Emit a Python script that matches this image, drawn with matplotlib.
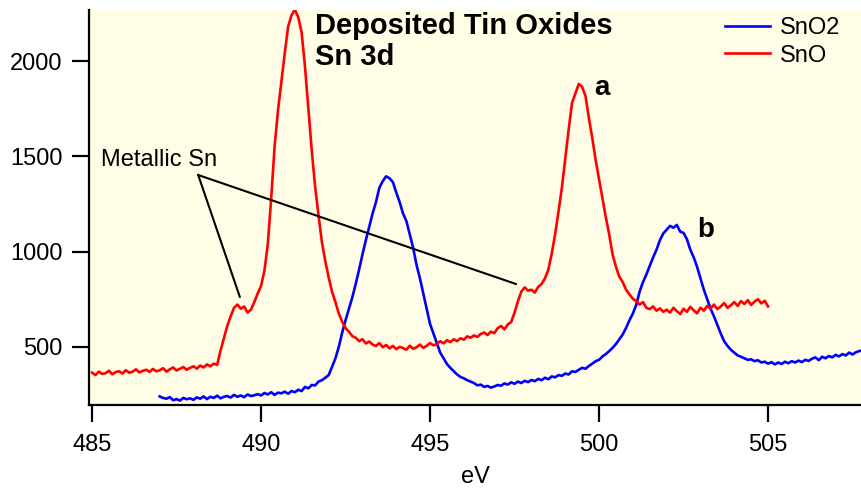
import numpy as np
import matplotlib
matplotlib.use("Agg")
import matplotlib.pyplot as plt

plt.rcParams['font.family'] = ['Liberation Sans', 'DejaVu Sans']

# SnO spectrum: 485.0 .. 505.0 eV, step 0.1 eV
sno_start, sno_step = 485.0, 0.1
sno_counts = [
    365, 352, 370, 358, 362, 375, 356, 368, 372, 360,
    378, 364, 370, 382, 366, 374, 380, 369, 384, 372,
    377, 388, 370, 382, 392, 376, 385, 394, 380, 390,
    398, 386, 402, 392, 408, 398, 412, 405, 480, 545,
    610, 660, 705, 722, 700, 712, 680, 695, 735, 780,
    820, 900, 1040, 1280, 1550, 1740, 1890, 2040, 2180, 2240,
    2270, 2230, 2150, 1970, 1750, 1530, 1340, 1190, 1050, 950,
    865, 790, 735, 675, 632, 598, 580, 556, 548, 530,
    540, 518, 528, 512, 505, 520, 498, 510, 492, 505,
    488, 500, 494, 485, 506, 490, 498, 512, 495, 505,
    520, 508, 515, 530, 518, 535, 525, 540, 530, 545,
    538, 555, 548, 560, 552, 568, 575, 562, 580, 572,
    598, 610, 592, 618, 630, 680, 740, 790, 812, 795,
    800, 785, 815, 830, 860, 905, 990, 1090, 1210, 1335,
    1490, 1640, 1780, 1830, 1880, 1865, 1815, 1700, 1595, 1480,
    1380, 1280, 1180, 1090, 985, 920, 868, 840, 800, 775,
    752, 740, 722, 735, 705, 698, 712, 690, 702, 684,
    695, 680, 705, 688, 672, 700, 684, 710, 692, 676,
    705, 690, 715, 700, 722, 698, 712, 730, 705, 718,
    735, 715, 740, 725, 745, 720, 738, 750, 728, 742,
    712,
]

# SnO2 spectrum: 487.0 .. 507.8 eV, step 0.1 eV
sno2_start, sno2_step = 487.0, 0.1
sno2_counts = [
    240, 232, 228, 236, 220, 226, 218, 232, 225, 230,
    222, 235, 228, 240, 226, 238, 232, 244, 230, 238,
    242, 234, 248, 238, 245, 236, 250, 242, 246, 252,
    245, 258, 250, 262, 248, 260, 256, 265, 254, 268,
    262, 275, 268, 290, 282, 300, 298, 318, 325, 338,
    352, 395, 440, 500, 575, 640, 700, 760, 830, 905,
    985, 1060, 1130, 1200, 1260, 1335, 1370, 1395, 1385, 1365,
    1310, 1260, 1200, 1160, 1090, 1020, 930, 860, 780, 700,
    620, 570, 520, 470, 440, 410, 390, 372, 355, 342,
    335, 325, 318, 310, 298, 302, 290, 295, 286, 292,
    300, 296, 308, 302, 314, 306, 318, 310, 322, 315,
    326, 320, 332, 325, 338, 330, 345, 340, 352, 348,
    360, 355, 372, 368, 380, 390, 385, 400, 412, 425,
    432, 450, 462, 478, 495, 515, 540, 565, 600, 640,
    675, 720, 790, 840, 880, 925, 970, 1010, 1060, 1095,
    1115, 1135, 1125, 1140, 1105, 1098, 1065, 1010, 970, 920,
    860, 800, 750, 700, 660, 615, 570, 530, 505, 485,
    470, 455, 448, 440, 432, 435, 425, 430, 418, 422,
    412, 420, 408, 418, 410, 422, 414, 425, 418, 428,
    420, 432, 426, 438, 445, 430, 448, 440, 452, 445,
    458, 450, 462, 455, 470, 460, 472, 478, 482,
]

series_labels = ["SnO2", "SnO"]
x_ticks = [485, 490, 495, 500, 505]
y_ticks = [500, 1000, 1500, 2000]

# annotation: label anchor and pointed features (eV, counts)
metallic_label = "Metallic Sn"
metallic_vertex = (488.14, 1402)
metallic_targets = [(489.37, 763), (497.54, 830)]

sno_x = sno_start + sno_step * np.arange(len(sno_counts))
sno2_x = sno2_start + sno2_step * np.arange(len(sno2_counts))

fig = plt.figure(figsize=(8.61, 4.90), dpi=100)
ax = fig.add_axes([0.1034, 0.1735, 0.8966, 0.8061])
ax.set_facecolor('#FFFDE6')

ax.plot(sno2_x, sno2_counts, color='#0000FF', lw=1.9, label=series_labels[0])
ax.plot(sno_x, sno_counts, color='#FF0000', lw=1.9, label=series_labels[1])

ax.set_xlim(484.91, 507.75)
ax.set_ylim(195, 2268)

for s in ['top', 'right']:
    ax.spines[s].set_visible(False)
for s in ['left', 'bottom']:
    ax.spines[s].set_linewidth(1.6)

ax.set_xticks(x_ticks)
ax.set_yticks(y_ticks)
ax.tick_params(axis='both', direction='out', length=12, width=1.6, labelsize=17)
ax.tick_params(axis='x', pad=9)
ax.tick_params(axis='y', pad=7)
ax.set_xlabel('eV', fontsize=17, labelpad=7)

# annotation lines
for tx, ty in metallic_targets:
    ax.plot([metallic_vertex[0], tx], [metallic_vertex[1], ty], color='black', lw=1.5)
ax.text(485.27, 1480, metallic_label, fontsize=17, ha='left', va='center')

ax.text(491.6, 2255, "Deposited Tin Oxides", fontsize=21, fontweight='bold', ha='left', va='top')
ax.text(491.6, 2021, "Sn 3d", fontsize=21, fontweight='bold', ha='left', va='center')
ax.text(499.85, 1858, "a", fontsize=20, fontweight='bold', ha='left', va='center')
ax.text(502.9, 1113, "b", fontsize=20, fontweight='bold', ha='left', va='center')

leg = ax.legend(loc='upper left', bbox_to_anchor=(0.802, 1.023), frameon=False,
                fontsize=17, handlelength=1.9, handletextpad=0.45,
                labelspacing=0.22, borderpad=0.2)

fig.savefig('out.png', dpi=100)
